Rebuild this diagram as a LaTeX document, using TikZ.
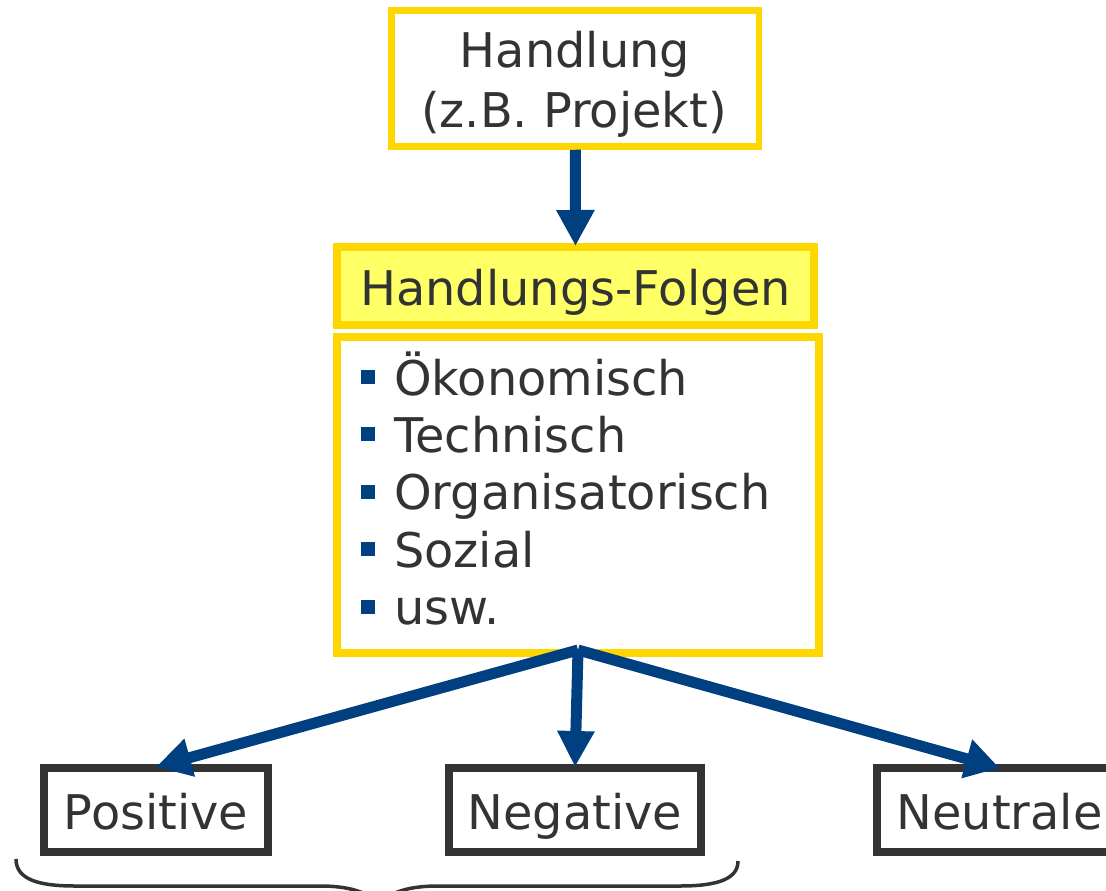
\documentclass[tikz,border=0pt]{standalone}
\usepackage{fontspec}
\setmainfont{DejaVu Sans}
\usetikzlibrary{arrows.meta,calc}
\definecolor{txt}{HTML}{333333}
\definecolor{gold}{HTML}{FFD700}
\definecolor{lightyel}{HTML}{FFFF66}
\definecolor{navy}{HTML}{004080}
\begin{document}
\begin{tikzpicture}[x=1pt,y=-1pt,
  every node/.style={text=txt},
  bigfont/.style={font=\fontsize{47.8}{57}\selectfont},
  goldbox/.style={draw=gold, line width=8pt, inner sep=0pt},
  darkbox/.style={draw=txt, line width=8pt, inner sep=0pt, minimum height=84pt,
                  text height=38pt, text depth=0pt, bigfont},
  itemtext/.style={bigfont, anchor=base west, inner sep=0pt},
  bulletbox/.style={fill=navy, minimum size=14pt, inner sep=0pt},
  arr/.style={draw=navy, line width=11pt}]
\useasboundingbox (0,0) rectangle (1106,891);
\clip (0,0) rectangle (1106,891);

% top box
\node[goldbox, line width=6.5pt, minimum width=367.5pt, minimum height=136pt] (hand) at (575.25,78.5) {};
\node[bigfont, anchor=base, inner sep=0pt] (handA) at (575,68) {Handlung};
\node[bigfont, anchor=base, inner sep=0pt] (handB) at (574,127) {(z.B. Projekt)};

% Handlungs-Folgen
\node[goldbox, fill=lightyel, minimum width=477pt, minimum height=78pt,
      text height=38pt, text depth=0pt, bigfont] (folgen) at (575.5,286) {Handlungs-Folgen};

% list box
\node[goldbox, fill=white, minimum width=482pt, minimum height=316pt] (list) at (578,495) {};
\node[bulletbox] (b1) at (368,377) {};
\node[bulletbox] (b2) at (368,434) {};
\node[bulletbox] (b3) at (368,492) {};
\node[bulletbox] (b4) at (368,549) {};
\node[bulletbox] (b5) at (368,607) {};
\node[itemtext] (i1) at (394,395) {Ökonomisch};
\node[itemtext] (i2) at (394,452) {Technisch};
\node[itemtext] (i3) at (394,509) {Organisatorisch};
\node[itemtext] (i4) at (394,567) {Sozial};
\node[itemtext] (i5) at (394,624) {usw.};

% result boxes
\node[darkbox, minimum width=224pt] (pos) at (156,810) {Positive};
\node[darkbox, minimum width=252pt] (neg) at (575,810) {Negative};
\node[darkbox, minimum width=245pt] (neu) at (999.5,810) {Neutrale};

% arrows
\coordinate (fork) at ([yshift=7pt]list.south);
\draw[arr, -{Triangle[length=36pt,width=36pt]}] (hand.south) -- ([yshift=-3pt]folgen.north);
\draw[arr, -{Triangle[length=35pt,width=37pt]}] (fork) -- ([yshift=-3pt]pos.north);
\draw[arr, -{Triangle[length=36pt,width=35pt]}] (fork) -- ([yshift=-3pt]neg.north);
\draw[arr, -{Triangle[length=34pt,width=38pt]}] (fork) -- ([yshift=-4pt]neu.north);

% brace
\draw[txt, line width=3.5pt]
  (16,859) .. controls (16,880) and (40,886) .. (75,886) -- (320,886)
  .. controls (355,886) and (375,895) .. (379,909)
  .. controls (383,895) and (403,886) .. (438,886) -- (680,886)
  .. controls (720,886) and (738,878) .. (738,861);
\end{tikzpicture}
\end{document}
